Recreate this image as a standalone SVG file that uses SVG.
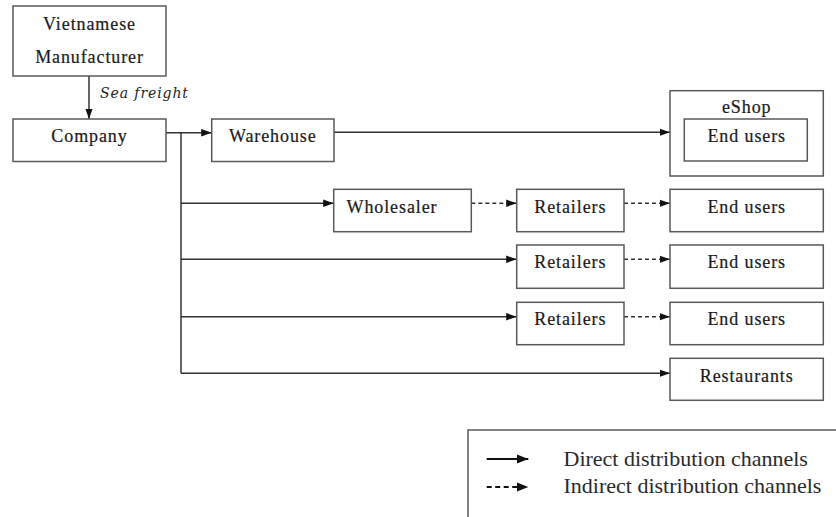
<svg xmlns="http://www.w3.org/2000/svg" width="836" height="517" viewBox="0 0 836 517">
  <defs>
    <marker id="arrow" markerUnits="userSpaceOnUse" markerWidth="11" markerHeight="9" refX="10.5" refY="4.5" orient="auto">
      <path d="M0,0.8 L10.5,4.5 L0,8.2 z" fill="#111"/>
    </marker>
    <marker id="arrow-lg" markerUnits="userSpaceOnUse" markerWidth="12" markerHeight="10" refX="11.5" refY="5" orient="auto">
      <path d="M0,0.5 L11.5,5 L0,9.5 z" fill="#111"/>
    </marker>
    <style>
      .box { fill: #fff; stroke: #5a5a5a; stroke-width: 1.5; }
      .lbl { font-family: "Liberation Serif", "Times New Roman", serif; font-size: 18px; letter-spacing: 0.9px; fill: #1a1a1a; stroke: #1a1a1a; stroke-width: 0.2; text-anchor: middle; }
      .edge { fill: none; stroke: #333; stroke-width: 1.5; }
      .solid { marker-end: url(#arrow); }
      .dashed { stroke-dasharray: 4 3; marker-end: url(#arrow); }
      .note { font-family: "DejaVu Serif", "Liberation Serif", serif; font-style: italic; font-size: 14px; fill: #222; }
      .legend-text { font-family: "Liberation Serif", "Times New Roman", serif; font-size: 22px; fill: #2a2a2a; }
      .legend-edge { fill: none; stroke: #111; stroke-width: 2; marker-end: url(#arrow-lg); }
    </style>
  </defs>

  <rect width="836" height="517" fill="#fff"/>

  <!-- connectors -->
  <g id="connectors">
    <line class="edge solid" x1="89" y1="76" x2="89" y2="119"/>
    <text class="note" x="100" y="98" textLength="88" lengthAdjust="spacing">Sea freight</text>
    <line class="edge solid" x1="166" y1="132.7" x2="211.7" y2="132.7"/>
    <polyline class="edge" points="181,132.7 181,373.3"/>
    <line class="edge solid" x1="334" y1="132.3" x2="670" y2="132.3"/>
    <line class="edge solid" x1="181" y1="203.3" x2="333.7" y2="203.3"/>
    <line class="edge dashed" x1="471.3" y1="203.3" x2="516.7" y2="203.3"/>
    <line class="edge dashed" x1="624" y1="203.3" x2="670" y2="203.3"/>
    <line class="edge solid" x1="181" y1="259.3" x2="516.7" y2="259.3"/>
    <line class="edge dashed" x1="624" y1="259.3" x2="670" y2="259.3"/>
    <line class="edge solid" x1="181" y1="316.7" x2="516.7" y2="316.7"/>
    <line class="edge dashed" x1="624" y1="316.7" x2="670" y2="316.7"/>
    <line class="edge solid" x1="181" y1="373.3" x2="670" y2="373.3"/>
  </g>

  <!-- nodes -->
  <g id="manufacturer">
    <rect class="box" x="13" y="6" width="153" height="70"/>
    <text class="lbl" x="89.5" y="30">Vietnamese</text>
    <text class="lbl" x="89.5" y="63">Manufacturer</text>
  </g>
  <g id="company">
    <rect class="box" x="13" y="119" width="153" height="42.5"/>
    <text class="lbl" x="89.5" y="142">Company</text>
  </g>
  <g id="warehouse">
    <rect class="box" x="211.7" y="119" width="122.3" height="42.5"/>
    <text class="lbl" x="272.8" y="141.7">Warehouse</text>
  </g>
  <g id="eshop">
    <rect class="box" x="670" y="90.7" width="153.3" height="85.3"/>
    <text class="lbl" x="746.7" y="113.3">eShop</text>
    <g id="eshop-end-users">
      <rect class="box" x="684.3" y="119" width="123" height="42"/>
      <text class="lbl" x="746.7" y="142.3">End users</text>
    </g>
  </g>
  <g id="wholesaler">
    <rect class="box" x="333.7" y="189.3" width="137.6" height="42.4"/>
    <text class="lbl" x="392" y="212.7">Wholesaler</text>
  </g>
  <g id="retailers-1">
    <rect class="box" x="516.7" y="189.3" width="107.3" height="42.4"/>
    <text class="lbl" x="570.3" y="212.7">Retailers</text>
  </g>
  <g id="end-users-1">
    <rect class="box" x="670" y="189.3" width="153.3" height="42.4"/>
    <text class="lbl" x="746.7" y="212.7">End users</text>
  </g>
  <g id="retailers-2">
    <rect class="box" x="516.7" y="245" width="107.3" height="43.3"/>
    <text class="lbl" x="570.3" y="268.3">Retailers</text>
  </g>
  <g id="end-users-2">
    <rect class="box" x="670" y="245" width="153.3" height="43.3"/>
    <text class="lbl" x="746.7" y="268.3">End users</text>
  </g>
  <g id="retailers-3">
    <rect class="box" x="516.7" y="302.3" width="107.3" height="42.4"/>
    <text class="lbl" x="570.3" y="325.3">Retailers</text>
  </g>
  <g id="end-users-3">
    <rect class="box" x="670" y="302.3" width="153.3" height="42.4"/>
    <text class="lbl" x="746.7" y="325.3">End users</text>
  </g>
  <g id="restaurants">
    <rect class="box" x="670" y="358.3" width="153.3" height="42"/>
    <text class="lbl" x="746.7" y="381.7">Restaurants</text>
  </g>

  <!-- legend -->
  <g id="legend">
    <rect class="box" x="468" y="430" width="400" height="100"/>
    <line class="legend-edge" x1="486.7" y1="459" x2="528.3" y2="459"/>
    <text class="legend-text" x="563.5" y="466">Direct distribution channels</text>
    <line class="legend-edge" x1="486.7" y1="487" x2="528.3" y2="487" style="stroke-dasharray:5 3.5"/>
    <text class="legend-text" x="563.5" y="493">Indirect distribution channels</text>
  </g>
</svg>
